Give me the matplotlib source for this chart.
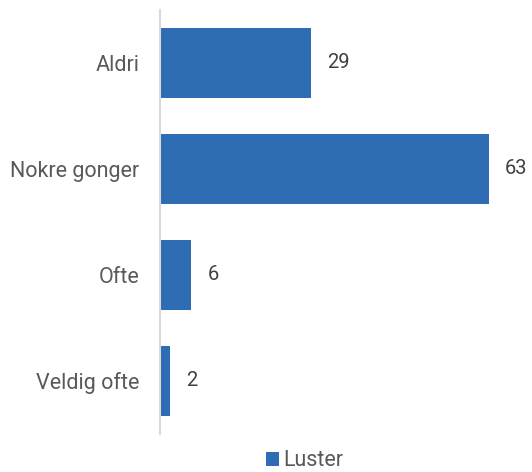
import matplotlib.pyplot as plt

# ========== Data ==========
categories = ['Aldri', 'Nokre gonger', 'Ofte', 'Veldig ofte']
values = [29, 63, 6, 2]
series_name = 'Luster'

bar_color = '#2E6DB4'

plt.rcParams['font.family'] = ['Roboto', 'DejaVu Sans']

fig = plt.figure(figsize=(5.32, 4.72), dpi=100)
ax = fig.add_axes([160 / 532, 1 - 434 / 472, 365 / 532, 424 / 472])

y = list(range(len(categories)))
bars = ax.barh(y, values, height=0.66, color=bar_color, label=series_name)

ax.set_ylim(len(categories) - 0.5, -0.5)
ax.set_xlim(0, 70)
ax.set_yticks(y)
ax.set_yticklabels(categories, fontsize=15.5, color='#595959')
ax.tick_params(axis='y', length=0, pad=15)
ax.set_xticks([])

for s in ['top', 'right', 'bottom']:
    ax.spines[s].set_visible(False)
ax.spines['left'].set_color('#d9d9d9')
ax.spines['left'].set_linewidth(1.5)

# etiquetas de valor
for b, v in zip(bars, values):
    ax.annotate(str(v), (b.get_width(), b.get_y() + b.get_height() / 2),
                xytext=(16, 0), textcoords='offset pixels',
                va='center', ha='left', fontsize=14.5, color='#404040')

fig.legend(loc='center', bbox_to_anchor=(0.572, 1 - 461 / 472), frameon=False,
           fontsize=15.5, handlelength=0.6, handleheight=0.6, handletextpad=0.2,
           labelcolor='#595959', borderpad=0.2)

fig.savefig('out.png', dpi=100)
